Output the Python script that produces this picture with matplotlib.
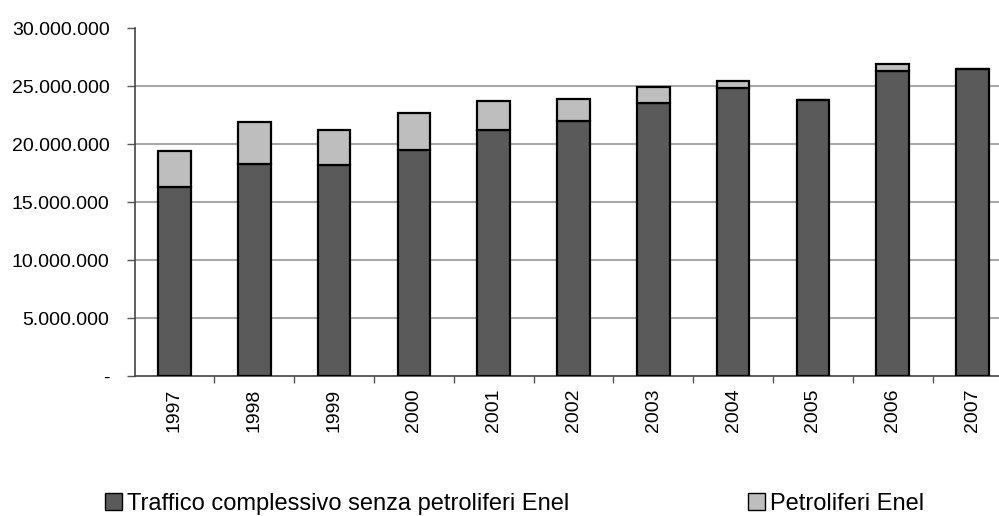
import matplotlib
matplotlib.use("Agg")
import matplotlib.pyplot as plt
from matplotlib.ticker import FuncFormatter
from matplotlib.patches import Patch

plt.rcParams['font.family'] = ['Liberation Sans', 'DejaVu Sans']

years = ['1997', '1998', '1999', '2000', '2001', '2002', '2003', '2004', '2005', '2006', '2007']
traffico = [16320000, 18250000, 18220000, 19480000, 21210000, 21990000, 23510000, 24800000, 23820000, 26320000, 26490000]
petroliferi = [3080000, 3670000, 3020000, 3190000, 2520000, 1920000, 1400000, 630000, 0, 600000, 0]
yticks = [0, 5000000, 10000000, 15000000, 20000000, 25000000, 30000000]

dark = '#5a5a5a'
light = '#bebebe'

fig = plt.figure(figsize=(9.99, 5.16), dpi=100)
ax = fig.add_axes([0.1347, 0.2713, 0.8787, 0.6744])

x = list(range(len(years)))
ax.bar(x, traffico, width=0.41, color=dark, edgecolor='black', linewidth=1.6, zorder=3)
ax.bar(x, petroliferi, width=0.41, bottom=traffico, color=light, edgecolor='black', linewidth=1.6, zorder=3)

ax.set_xlim(-0.5, len(years) - 0.5)
ax.set_ylim(0, 30000000)
ax.set_yticks(yticks)

def fmt(v, pos):
    if v == 0:
        return '-'
    return f"{int(v):,}".replace(',', '.')

ax.yaxis.set_major_formatter(FuncFormatter(fmt))
for v in yticks[1:-1]:
    ax.axhline(v, color='#a8a8a8', linewidth=1.5, zorder=1)

ax.set_xticks(x)
ax.set_xticklabels(years, rotation=90)
ax.set_xticks([i + 0.5 for i in x[:-1]], minor=True)
ax.tick_params(axis='x', which='major', length=0, pad=9, labelsize=14)
ax.tick_params(axis='x', which='minor', length=5, width=1, color='#555555', direction='out')
ax.tick_params(axis='y', length=6, width=1, color='#555555', pad=12, labelsize=14, direction='out')

for s in ['top', 'right']:
    ax.spines[s].set_visible(False)
ax.spines['left'].set_color('#444444')
ax.spines['bottom'].set_color('#444444')
ax.spines['left'].set_linewidth(1.2)
ax.spines['bottom'].set_linewidth(1.2)

h1 = Patch(facecolor=dark, edgecolor='black', linewidth=1)
h2 = Patch(facecolor=light, edgecolor='black', linewidth=1)
kw = dict(frameon=False, fontsize=17, handlelength=0.72, handleheight=0.72,
          handletextpad=0.2, borderpad=0, borderaxespad=0, loc='center left')
fig.legend([h1], ['Traffico complessivo senza petroliferi Enel'], bbox_to_anchor=(105/999, 1 - 504/516), **kw)
fig.legend([h2], ['Petroliferi Enel'], bbox_to_anchor=(748/999, 1 - 504/516), **kw)

fig.savefig('out.png', dpi=100)
